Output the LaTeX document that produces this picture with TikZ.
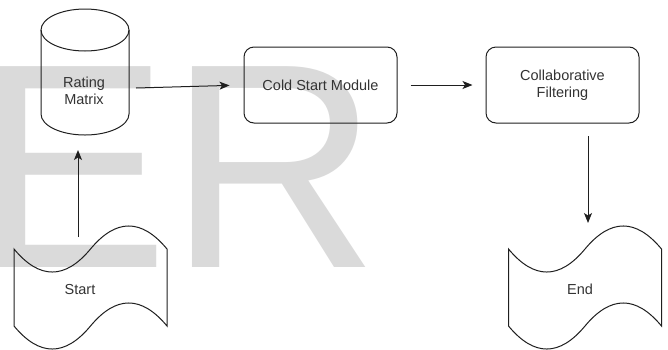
\documentclass[tikz,border=0pt]{standalone}
\usepackage{fontspec}
\setmainfont{Liberation Sans}
\usetikzlibrary{arrows.meta}
\usetikzlibrary{positioning}
\definecolor{mgrey}{rgb}{0.855, 0.855, 0.855}
\definecolor{mline}{rgb}{0.12, 0.12, 0.12}
\definecolor{mtext}{rgb}{0.2, 0.2, 0.2}
\tikzset{line/.style = {draw = mline, line width = 1pt}}
\tikzset{box/.style = {line, rounded corners = 10pt, minimum width = 153pt, minimum height = 76pt, align = center}}
\tikzset{label/.style = {text = mtext, align = center, font = \fontsize{14.5}{17.5}\selectfont}}
\tikzset{arr/.style = {line, -{Stealth[length = 10pt, width = 8pt, inset = 2.5pt]}}}
\tikzset{tapeshape/.pic = {
    \draw [line] (0, 25.5) .. controls (25.5, 56.2) and (51, 56.2) .. (76.5, 25.5)
      .. controls (102, -5.2) and (127.5, -5.2) .. (153, 25.5) -- (153, 102.5)
      .. controls (127.5, 71.8) and (102, 71.8) .. (76.5, 102.5)
      .. controls (51, 133.2) and (25.5, 133.2) .. (0, 102.5) -- cycle;
  }}

\begin{document}
\begin{tikzpicture}[x = 1pt, y = -1pt]
      \useasboundingbox (0, 0) rectangle (668, 349);

      % watermark
      \node [anchor = base west, inner sep = 0, text = mgrey, font = \fontsize{292}{292}\selectfont] (mark) at (-26, 267) {ER};

      % rating matrix
      \draw [line] (41, 30) -- (41, 114) arc [start angle = 180, end angle = 360, x radius = 44pt, y radius = 21pt] -- (129, 30);
      \draw [line] (85, 30) ellipse [x radius = 44pt, y radius = 21pt];
      \node [label] (rating) at (84, 91) {Rating\\Matrix};

      \node [box, label] (cold) at (320.5, 85) {Cold Start Module};
      \node [box, label] (collab) at (562.5, 85) {Collaborative\\Filtering};

      \pic at (14, 223.5) {tapeshape};
      \node [label] (start) at (80, 289) {Start};

      \pic at (508.5, 223.5) {tapeshape};
      \node [label] (end) at (580, 289) {End};

      \coordinate (startout) at (78, 237);
      \coordinate (ratingin) at (78, 150);
      \coordinate (ratingout) at (136, 88);
      \coordinate (collabout) at (588, 136);
      \coordinate (endin) at (588, 223);

      \draw [arr] (startout) -- (ratingin);
      \draw [arr, shorten > = 14pt] (ratingout) -- (cold.west);
      \draw [arr, shorten < = 13pt, shorten > = 13pt] (cold) -- (collab);
      \draw [arr] (collabout) -- (endin);
    \end{tikzpicture}
\end{document}
